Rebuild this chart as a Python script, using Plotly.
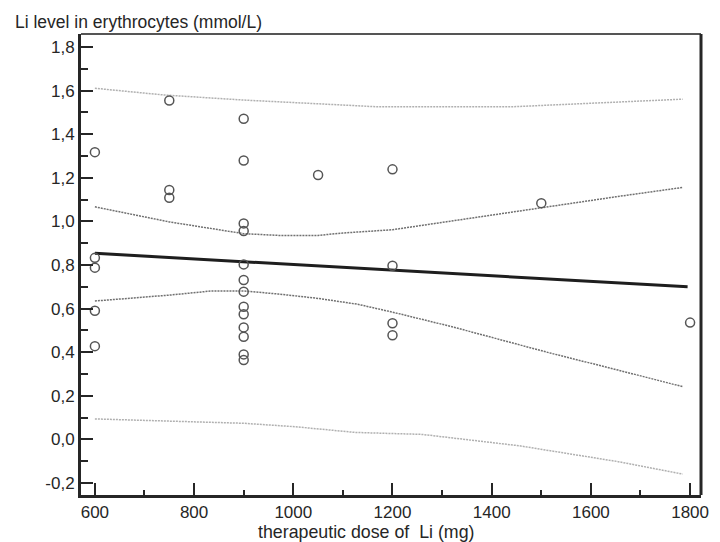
import plotly.graph_objects as go

# ---- data ----
dose = [600, 600, 600, 600, 600,
        750, 750, 750,
        900, 900, 900, 900, 900, 900, 900, 900, 900, 900, 900, 900, 900,
        1050,
        1200, 1200, 1200, 1200,
        1500,
        1800]
li_ery = [1.318, 0.833, 0.788, 0.590, 0.428,
          1.555, 1.144, 1.109,
          1.471, 1.280, 0.991, 0.956, 0.803, 0.731, 0.678, 0.609, 0.574, 0.514, 0.471, 0.390, 0.364,
          1.213,
          1.239, 0.797, 0.533, 0.478,
          1.084,
          0.536]

fit_x = [600, 1795]
fit_y = [0.854, 0.700]

ci_up_x = [600, 750, 900, 970, 1050, 1100, 1200, 1300, 1400, 1500, 1650, 1785]
ci_up_y = [1.067, 0.998, 0.944, 0.936, 0.936, 0.947, 0.962, 0.996, 1.029, 1.062, 1.113, 1.156]

ci_lo_x = [600, 750, 835, 900, 970, 1050, 1130, 1200, 1320, 1520, 1655, 1785]
ci_lo_y = [0.635, 0.662, 0.681, 0.681, 0.667, 0.647, 0.620, 0.584, 0.517, 0.395, 0.318, 0.242]

pi_up_x = [600, 740, 900, 1130, 1170, 1440, 1585, 1785]
pi_up_y = [1.611, 1.580, 1.557, 1.529, 1.526, 1.526, 1.542, 1.561]

pi_lo_x = [600, 810, 900, 1005, 1125, 1260, 1455, 1655, 1785]
pi_lo_y = [0.094, 0.081, 0.074, 0.058, 0.032, 0.023, -0.029, -0.102, -0.159]

x_ticks = [600, 800, 1000, 1200, 1400, 1600, 1800]
x_ticktext = ["600", "800", "1000", "1200", "1400", "1600", "1800"]
y_ticks = [-0.2, 0.0, 0.2, 0.4, 0.6, 0.8, 1.0, 1.2, 1.4, 1.6, 1.8]
y_ticktext = ["-0,2", "0,0", "0,2", "0,4", "0,6", "0,8", "1,0", "1,2", "1,4", "1,6", "1,8"]

y_title = "Li level in erythrocytes (mmol/L)"
x_title = "therapeutic dose of\u00a0\u00a0Li (mg)"

FONT = "Liberation Sans, Arial, sans-serif"
INK = "#262626"

fig = go.Figure()

fig.add_trace(go.Scatter(x=pi_up_x, y=pi_up_y, mode="lines",
                         line=dict(color="#b0b0b0", width=1.5, dash="2px,1px"),
                         hoverinfo="skip"))
fig.add_trace(go.Scatter(x=pi_lo_x, y=pi_lo_y, mode="lines",
                         line=dict(color="#b0b0b0", width=1.5, dash="2px,1px"),
                         hoverinfo="skip"))
fig.add_trace(go.Scatter(x=ci_up_x, y=ci_up_y, mode="lines",
                         line=dict(color="#707070", width=1.5, dash="2px,1px"),
                         hoverinfo="skip"))
fig.add_trace(go.Scatter(x=ci_lo_x, y=ci_lo_y, mode="lines",
                         line=dict(color="#707070", width=1.5, dash="2px,1px"),
                         hoverinfo="skip"))
fig.add_trace(go.Scatter(x=fit_x, y=fit_y, mode="lines",
                         line=dict(color="#1e1e1e", width=3)))
fig.add_trace(go.Scatter(x=dose, y=li_ery, mode="markers",
                         marker=dict(symbol="circle-open", size=9,
                                     color="#555555", line=dict(width=1.5, color="#555555"))))

# the page places the figure 8px from the top-left corner, so the figure is
# 8px smaller and its margins are shifted to keep the plot where it belongs
fig.update_layout(
    width=712, height=534,
    margin=dict(l=73, r=11, t=26, b=47),
    paper_bgcolor="white", plot_bgcolor="white",
    showlegend=False,
    font=dict(family=FONT, size=17, color=INK),
    xaxis=dict(range=[572, 1822], tickvals=x_ticks, ticktext=x_ticktext,
               ticks="inside", ticklen=12, tickwidth=2, tickcolor=INK,
               showline=True, linewidth=3, linecolor=INK,
               showgrid=False, zeroline=False,
               minor=dict(dtick=100, tick0=600, ticks="inside", ticklen=5,
                          tickwidth=2, tickcolor=INK, showgrid=False),
               tickfont=dict(size=17, color=INK)),
    yaxis=dict(range=[-0.255, 1.86], tickvals=y_ticks, ticktext=y_ticktext,
               ticks="inside", ticklen=12, tickwidth=2, tickcolor=INK,
               showline=True, linewidth=3, linecolor=INK,
               showgrid=False, zeroline=False,
               minor=dict(dtick=0.1, tick0=-0.2, ticks="inside", ticklen=7,
                          tickwidth=2, tickcolor=INK, showgrid=False),
               tickfont=dict(size=17, color=INK)),
    shapes=[
        dict(type="line", xref="paper", yref="paper", x0=0, x1=1, y0=1, y1=1,
             line=dict(color="#555555", width=2)),
        dict(type="line", xref="paper", yref="paper", x0=1, x1=1, y0=0, y1=1,
             line=dict(color=INK, width=3)),
    ],
    annotations=[
        dict(text=y_title, xref="paper", yref="paper", x=-0.110, y=1.026,
             xanchor="left", yanchor="middle", showarrow=False,
             font=dict(family=FONT, size=17.5, color=INK)),
        dict(text=x_title, xref="paper", yref="paper", x=0.46, y=-0.080,
             xanchor="center", yanchor="middle", showarrow=False,
             font=dict(family=FONT, size=17.8, color=INK)),
    ],
)

fig.write_html("out.html")
